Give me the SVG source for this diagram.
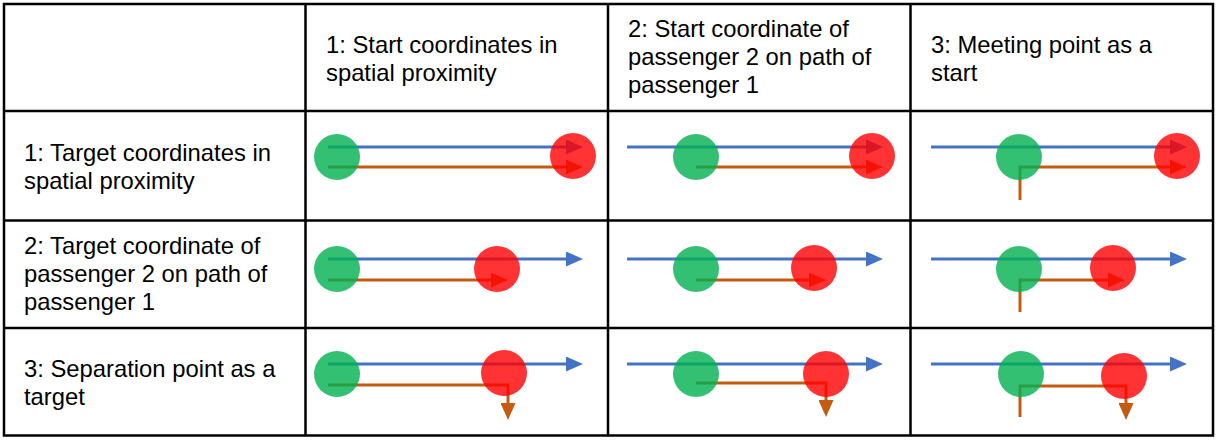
<svg xmlns="http://www.w3.org/2000/svg" width="1216" height="442" viewBox="0 0 1216 442">
<style>
.grid{stroke:#000;stroke-width:2.5;fill:none}
.t{font-family:"Liberation Sans",Arial,sans-serif;font-size:23.8px;fill:#000}
.b{stroke:#4472c4;stroke-width:3;fill:none;marker-end:url(#ab)}
.o{stroke:#c55a11;stroke-width:3;fill:none;stroke-linejoin:miter;marker-end:url(#ao)}
.g{fill:#00b050;fill-opacity:0.8}
.r{fill:#ff0000;fill-opacity:0.8}
</style>
<defs>
<marker id="ab" markerUnits="userSpaceOnUse" markerWidth="17" markerHeight="15" viewBox="0 0 17 15" refX="0" refY="7.5" orient="auto"><path d="M0,0 L17,7.5 L0,15 Z" fill="#4472c4"/></marker>
<marker id="ao" markerUnits="userSpaceOnUse" markerWidth="17" markerHeight="15" viewBox="0 0 17 15" refX="0" refY="7.5" orient="auto"><path d="M0,0 L17,7.5 L0,15 Z" fill="#c55a11"/></marker>
</defs>
<rect width="1216" height="442" fill="#fff"/>
<g id="table">
<rect class="grid" x="4" y="4" width="1209" height="431.5"/>
<line class="grid" x1="305.5" y1="4" x2="305.5" y2="435.5"/>
<line class="grid" x1="608" y1="4" x2="608" y2="435.5"/>
<line class="grid" x1="910.5" y1="4" x2="910.5" y2="435.5"/>
<line class="grid" x1="4" y1="111" x2="1213" y2="111"/>
<line class="grid" x1="4" y1="220.5" x2="1213" y2="220.5"/>
<line class="grid" x1="4" y1="328" x2="1213" y2="328"/>
</g>
<g id="headers">
<text class="t" x="326" y="53">1: Start coordinates in</text>
<text class="t" x="326" y="81">spatial proximity</text>
<text class="t" x="628" y="37">2: Start coordinate of</text>
<text class="t" x="628" y="65">passenger 2 on path of</text>
<text class="t" x="628" y="93">passenger 1</text>
<text class="t" x="931" y="53">3: Meeting point as a</text>
<text class="t" x="931" y="81">start</text>
<text class="t" x="24" y="161">1: Target coordinates in</text>
<text class="t" x="24" y="189">spatial proximity</text>
<text class="t" x="24" y="254">2: Target coordinate of</text>
<text class="t" x="24" y="282">passenger 2 on path of</text>
<text class="t" x="24" y="310">passenger 1</text>
<text class="t" x="24" y="377">3: Separation point as a</text>
<text class="t" x="24" y="405">target</text>
</g>
<g id="connectors">
<path class="b" d="M328,147 H566"/>
<path class="o" d="M328,167 H566"/>
<path class="b" d="M627,147 H866"/>
<path class="o" d="M696,167 H866"/>
<path class="b" d="M931,147 H1170"/>
<path class="o" d="M1020,200 V167 H1170"/>
<path class="b" d="M328,259 H566"/>
<path class="o" d="M328,280 H491"/>
<path class="b" d="M627,259 H866"/>
<path class="o" d="M696,280 H809"/>
<path class="b" d="M931,259 H1170"/>
<path class="o" d="M1020,312 V280 H1108"/>
<path class="b" d="M328,364 H566"/>
<path class="o" d="M328,385 H508 V403"/>
<path class="b" d="M627,364 H866"/>
<path class="o" d="M696,383 H826 V400"/>
<path class="b" d="M931,364 H1170"/>
<path class="o" d="M1020,417 V386 H1126 V403"/>
</g>
<g id="cell-1-1"><circle class="g" cx="337" cy="157" r="23"/><circle class="r" cx="573" cy="156" r="23"/></g>
<g id="cell-1-2"><circle class="g" cx="696" cy="157" r="23"/><circle class="r" cx="872" cy="156" r="23"/></g>
<g id="cell-1-3"><circle class="g" cx="1019" cy="157" r="23"/><circle class="r" cx="1177" cy="156" r="23"/></g>
<g id="cell-2-1"><circle class="g" cx="337" cy="269" r="23"/><circle class="r" cx="497" cy="269" r="23"/></g>
<g id="cell-2-2"><circle class="g" cx="696" cy="269" r="23"/><circle class="r" cx="814" cy="268" r="23"/></g>
<g id="cell-2-3"><circle class="g" cx="1019" cy="269" r="23"/><circle class="r" cx="1113" cy="268" r="23"/></g>
<g id="cell-3-1"><circle class="g" cx="337" cy="374" r="23"/><circle class="r" cx="504" cy="373" r="23"/></g>
<g id="cell-3-2"><circle class="g" cx="696" cy="374" r="23"/><circle class="r" cx="826" cy="374" r="23"/></g>
<g id="cell-3-3"><circle class="g" cx="1021" cy="374" r="23"/><circle class="r" cx="1124" cy="376" r="23"/></g>
</svg>
